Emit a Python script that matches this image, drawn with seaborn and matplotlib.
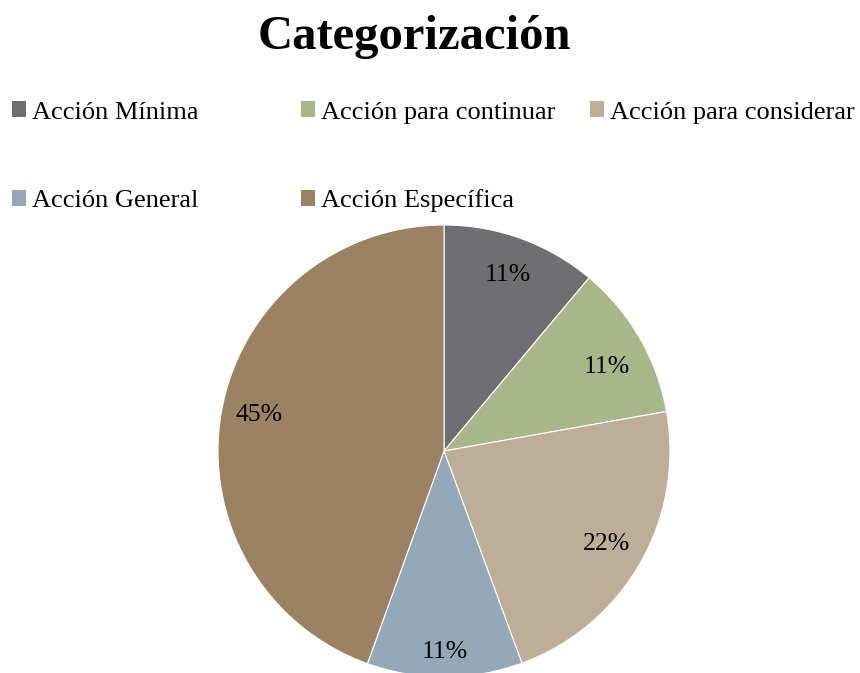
import math
import matplotlib
matplotlib.use("Agg")
import matplotlib.pyplot as plt
import matplotlib.patches as mpatches
import seaborn as sns

categories = ["Acción Mínima", "Acción para continuar", "Acción para considerar",
              "Acción General", "Acción Específica"]
values = [11.1, 11.1, 22.2, 11.1, 44.5]
colors = ["#706E73", "#A7B789", "#BFAE97", "#93A9B9", "#9A8263"]
title = "Categorización"

sns.set_theme(style="white")
plt.rcParams["font.family"] = ["Liberation Serif", "DejaVu Serif"]
plt.rcParams["text.color"] = "black"

W, H = 860, 673
fig = plt.figure(figsize=(W / 100, H / 100), dpi=100)
fig.patch.set_facecolor("white")

# pie axes: center (444, 451), radius 226 in pixels (bottom clipped by figure)
cx, cy, r = 444, 451, 226
ax = fig.add_axes([(cx - r) / W, (H - cy - r) / H, 2 * r / W, 2 * r / H])
wedges, texts, autotexts = ax.pie(
    values, colors=colors, startangle=90, counterclock=False,
    autopct=lambda p: f"{math.floor(p + 0.5 + 1e-9)}%", pctdistance=0.83,
    wedgeprops=dict(edgecolor="white", linewidth=0.8),
    textprops=dict(fontsize=18.5, color="black"))
ax.set_aspect("auto")
ax.set_xlim(-1, 1)
ax.set_ylim(-1, 1)
ax.axis("off")
# small label nudges to match the reference placement
x0, y0 = autotexts[1].get_position()
autotexts[1].set_position((x0, y0 - 0.045))
x0, y0 = autotexts[3].get_position()
autotexts[3].set_position((x0 * 0.89 / 0.83, y0 * 0.89 / 0.83))
x0, y0 = autotexts[4].get_position()
autotexts[4].set_position((x0, y0 + 0.017))

fig.text(414 / W, (H - 49) / H, title, ha="center", va="baseline",
         fontsize=35, fontweight="bold", color="black")

# legend entries (Excel style row-major grid)
col_x = [12, 301, 590]
row_y = [112.5, 201]
fs = 19
fs_px = fs * 100 / 72
for i, (lab, col) in enumerate(zip(categories, colors)):
    rr, c = divmod(i, 3)
    h = mpatches.Patch(facecolor=col, edgecolor="none")
    leg = fig.legend([h], [lab], loc="center left",
                     bbox_to_anchor=(col_x[c] / W, (H - row_y[rr]) / H),
                     frameon=False, fontsize=fs, borderpad=0, borderaxespad=0,
                     handlelength=14 / fs_px, handleheight=14 / fs_px,
                     handletextpad=6 / fs_px)
    for t in leg.get_texts():
        t.set_color("black")

fig.savefig("out.png", dpi=100, facecolor="white")
